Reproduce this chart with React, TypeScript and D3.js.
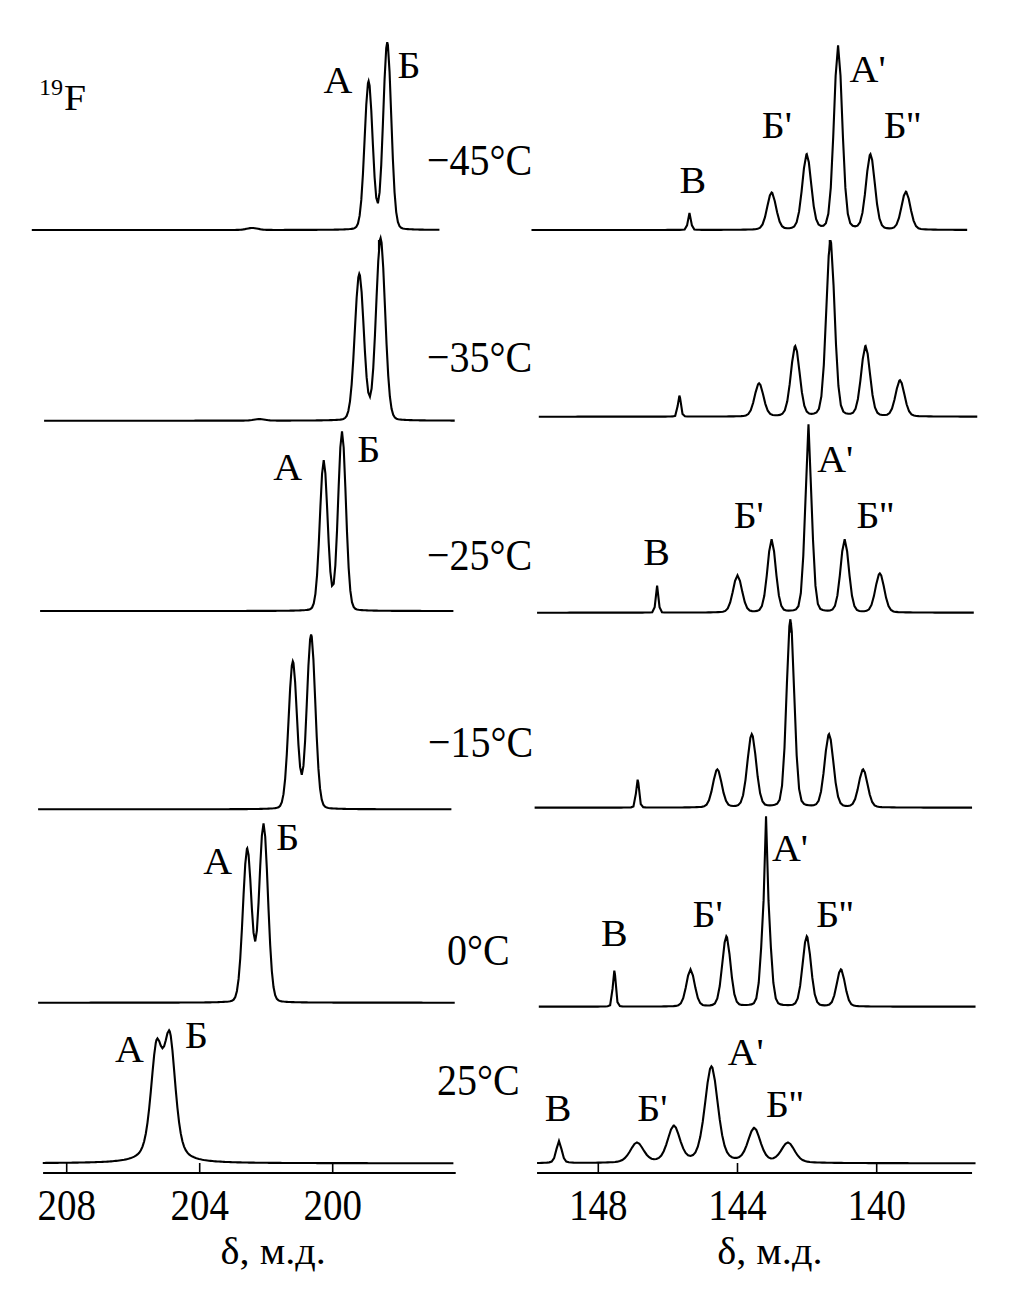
import React from "react";
import * as d3 from "d3";

// ---------- DATA ----------
const temperatures = ["−45°C", "−35°C", "−25°C", "−15°C", "0°C", "25°C"];
const leftTicks = [208, 204, 200];
const rightTicks = [148, 144, 140];
const axisTitle = "δ, м.д.";
const nucleusMass = "19";
const nucleusSymbol = "F";

// Left panel spectra (one entry per temperature): shifts (ppm), heights (a.u.), FWHM (ppm)
const leftShifts = [
  [198.92, 198.36, 202.42],
  [199.2, 198.56, 202.2],
  [200.27, 199.72],
  [201.2, 200.65],
  [202.57, 202.08],
  [205.3, 204.9],
];
const leftHeights = [
  [148, 187, 2],
  [146, 182, 1.5],
  [150, 179],
  [147, 174],
  [153, 178],
  [107, 117],
];
const leftWidths = [
  [0.285, 0.285, 0.4],
  [0.32, 0.32, 0.4],
  [0.275, 0.275],
  [0.3, 0.3],
  [0.31, 0.31],
  [0.41, 0.41],
];
const leftLorentz = [0.08, 0.08, 0.08, 0.08, 0.08, 0.5];
const leftRanges = [
  [209.05, 196.79],
  [208.68, 196.33],
  [208.8, 196.37],
  [208.86, 196.43],
  [208.86, 196.33],
  [208.72, 196.37],
];

// Right panel spectra
const rightShifts = [
  [145.38, 143.02, 142.01, 141.11, 140.18, 139.16],
  [145.67, 143.38, 142.34, 141.33, 140.32, 139.33],
  [146.31, 144.0, 143.02, 141.96, 141.96, 140.92, 139.91],
  [146.87, 144.58, 143.59, 142.48, 141.37, 140.39],
  [147.54, 145.35, 144.32, 143.18, 143.18, 142.01, 141.03],
  [149.13, 146.89, 145.83, 144.75, 143.52, 142.55],
];
const rightHeights = [
  [17, 37, 75, 184, 75, 38],
  [21, 33, 70, 176, 70, 36],
  [27, 37, 73, 162, 26, 73, 39],
  [28, 38, 73, 188, 73, 38],
  [36, 37, 70, 130, 60, 70, 37],
  [22, 20, 36, 96, 34, 20],
];
const rightWidths = [
  [0.1, 0.3, 0.3, 0.28, 0.3, 0.3],
  [0.1, 0.3, 0.3, 0.28, 0.3, 0.3],
  [0.09, 0.3, 0.28, 0.24, 0.03, 0.28, 0.3],
  [0.1, 0.3, 0.3, 0.26, 0.3, 0.3],
  [0.1, 0.28, 0.28, 0.26, 0.04, 0.28, 0.28],
  [0.18, 0.45, 0.42, 0.44, 0.42, 0.45],
];
const rightLorentz = [0.15, 0.15, 0.15, 0.15, 0.15, 0.35];
const rightRanges = [
  [149.92, 137.4],
  [149.71, 137.11],
  [149.76, 137.21],
  [149.83, 137.26],
  [149.71, 137.16],
  [149.76, 137.16],
];

// Peak assignments (row, label, ppm of label start, height above baseline)
const leftLabelRows = [0, 0, 2, 2, 4, 4, 5, 5];
const leftLabelTexts = ["А", "Б", "А", "Б", "А", "Б", "А", "Б"];
const leftLabelPpm = [200.28, 198.05, 201.79, 199.26, 203.89, 201.7, 206.55, 204.44];
const leftLabelHeight = [137, 152, 131, 149, 129, 153, 101, 115];

const rightLabelRows = [0, 0, 0, 0, 2, 2, 2, 2, 4, 4, 4, 4, 5, 5, 5, 5];
const rightLabelTexts = ["В", "Б'", "А'", "Б''", "В", "Б'", "А'", "Б''", "В", "Б'", "А'", "Б''", "В", "Б'", "А'", "Б''"];
const rightLabelPpm = [
  145.67, 143.3, 140.78, 139.8,
  146.71, 144.11, 141.71, 140.58,
  147.92, 145.29, 143.01, 141.74,
  149.54, 146.88, 144.28, 143.18,
];
const rightLabelHeight = [37, 92, 148, 92, 48, 85, 141, 85, 61, 80, 146, 80, 42, 42, 98, 46];

// Small reference marks under baselines
const markPanels = ["L", "R", "R"];
const markRows = [0, 0, 2];
const markPpm = [198.61, 141.35, 142.46];

// ---------- LAYOUT ----------
const W = 1014;
const H = 1303;
const leftBaseY = [230, 420.7, 611, 809.3, 1002.7, 1163.3];
const rightBaseY = [230, 416.7, 612.7, 807.7, 1006.7, 1163.3];
const axisY = 1173;
const tickLabelY = 1220;
const titleY = 1264;
const tempX = [427, 427, 427, 428, 447, 437];
const tempY = [175, 371.7, 570, 757, 965, 1095];
const FONT = "'Liberation Serif', 'Times New Roman', serif";

const xLeft = d3.scaleLinear().domain([208, 200]).range([66.7, 332.7]);
const xRight = d3.scaleLinear().domain([148, 140]).range([598.3, 876.7]);
const yFor = (base: number) => d3.scaleLinear().domain([0, 200]).range([base, base - 200]);

function pv(x: number, x0: number, h: number, fwhm: number, eta: number) {
  const d = (x - x0) / fwhm;
  const g = Math.exp(-4 * Math.LN2 * d * d);
  const l = 1 / (1 + 4 * d * d);
  return h * ((1 - eta) * g + eta * l);
}

function spectrum(range: number[], shifts: number[], heights: number[], widths: number[], eta: number, step: number) {
  const lo = Math.min(range[0], range[1]);
  const hi = Math.max(range[0], range[1]);
  const xs = d3.range(lo, hi, step).concat([hi]).concat(shifts.filter((s) => s > lo && s < hi));
  xs.sort((a, b) => a - b);
  return xs.map((x) => {
    let v = 0;
    shifts.forEach((s, i) => {
      v += pv(x, s, heights[i], widths[i], eta);
    });
    return [x, v] as [number, number];
  });
}

function Spectrum({ xs, base, pts }: { xs: d3.ScaleLinear<number, number>; base: number; pts: [number, number][] }) {
  const y = yFor(base);
  const line = d3
    .line<[number, number]>()
    .x((d) => xs(d[0]))
    .y((d) => y(d[1]));
  return <path d={line(pts) || ""} fill="none" stroke="#000" strokeWidth={2.1} strokeLinejoin="miter" />;
}

function Axis({ xs, ticks, from, to, titleAt, title }: { xs: d3.ScaleLinear<number, number>; ticks: number[]; from: number; to: number; titleAt: number; title: string }) {
  return (
    <g>
      <line x1={xs(from)} x2={xs(to)} y1={axisY} y2={axisY} stroke="#000" strokeWidth={2} />
      {ticks.map((t) => (
        <g key={t}>
          <line x1={xs(t)} x2={xs(t)} y1={axisY} y2={axisY - 10} stroke="#000" strokeWidth={1.6} />
          <text
            transform={`translate(${xs(t)},${tickLabelY}) scale(1,1.13)`}
            textAnchor="middle"
            fontSize={39}
            fontFamily={FONT}
          >
            {t}
          </text>
        </g>
      ))}
      <text transform={`translate(${xs(titleAt)},${titleY}) scale(1.12,1.05)`} textAnchor="middle" fontSize={36} fontFamily={FONT}>
        {title}
      </text>
    </g>
  );
}

export default function App() {
  const leftSpectra = leftShifts.map((s, i) =>
    spectrum(leftRanges[i], s, leftHeights[i], leftWidths[i], leftLorentz[i], 0.05)
  );
  const rightSpectra = rightShifts.map((s, i) =>
    spectrum(rightRanges[i], s, rightHeights[i], rightWidths[i], rightLorentz[i], 0.07)
  );
  return (
    <svg width={W} height={H} style={{ position: "absolute", left: 0, top: 0, background: "#fff", display: "block" }}>
      <rect x={0} y={0} width={W} height={H} fill="#fff" />
      {leftSpectra.map((pts, i) => (
        <Spectrum key={"l" + i} xs={xLeft} base={leftBaseY[i]} pts={pts} />
      ))}
      {rightSpectra.map((pts, i) => (
        <Spectrum key={"r" + i} xs={xRight} base={rightBaseY[i]} pts={pts} />
      ))}
      {markPpm.map((p, i) => {
        const xs = markPanels[i] === "L" ? xLeft : xRight;
        const base = markPanels[i] === "L" ? leftBaseY[markRows[i]] : rightBaseY[markRows[i]];
        return <line key={"m" + i} x1={xs(p)} x2={xs(p)} y1={base + 10} y2={base + 20} stroke="#000" strokeWidth={2} />;
      })}
      <Axis xs={xLeft} ticks={leftTicks} from={208.71} to={196.3} titleAt={201.79} title={axisTitle} />
      <Axis xs={xRight} ticks={rightTicks} from={149.76} to={137.26} titleAt={143.07} title={axisTitle} />
      {temperatures.map((t, i) => (
        <text key={t} transform={`translate(${tempX[i]},${tempY[i]}) scale(1,1.1)`} fontSize={40} fontFamily={FONT}>
          {t}
        </text>
      ))}
      {leftLabelTexts.map((t, i) => {
        const y = yFor(leftBaseY[leftLabelRows[i]]);
        return (
          <text
            key={"ll" + i}
            transform={`translate(${xLeft(leftLabelPpm[i])},${y(leftLabelHeight[i])}) scale(1.08,1)`}
            fontSize={37}
            fontFamily={FONT}
          >
            {t}
          </text>
        );
      })}
      {rightLabelTexts.map((t, i) => {
        const y = yFor(rightBaseY[rightLabelRows[i]]);
        return (
          <text
            key={"rl" + i}
            transform={`translate(${xRight(rightLabelPpm[i])},${y(rightLabelHeight[i])}) scale(1.08,1)`}
            fontSize={37}
            fontFamily={FONT}
          >
            {t}
          </text>
        );
      })}
      <text transform="translate(39,95) scale(1.05,1)" fontSize={23} fontFamily={FONT}>
        {nucleusMass}
      </text>
      <text transform="translate(64,110) scale(1.1,1)" fontSize={36} fontFamily={FONT}>
        {nucleusSymbol}
      </text>
    </svg>
  );
}
